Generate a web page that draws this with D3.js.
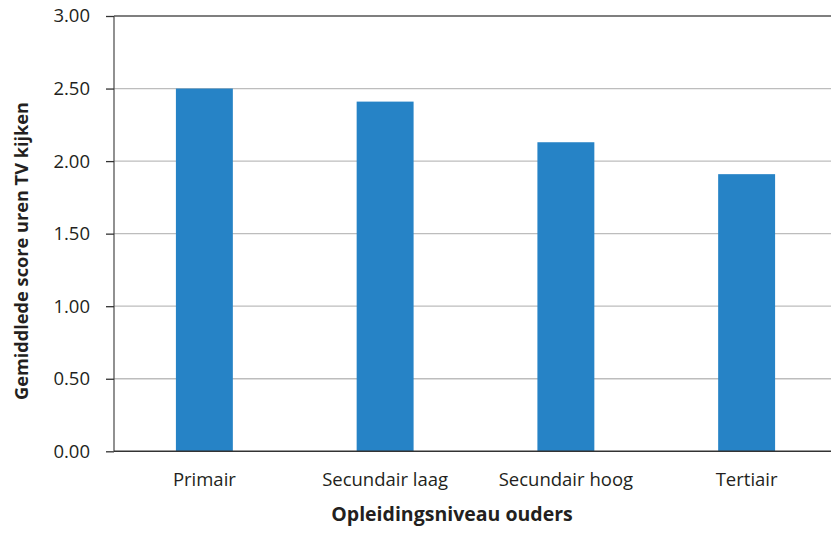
<!DOCTYPE html>
<html><head><meta charset="utf-8">
<script src="https://cdn.jsdelivr.net/npm/d3@7"></script>
<style>body{margin:0;background:#fff}svg{display:block}text{font-family:"Open Sans",sans-serif;fill:#231f20}</style>
</head><body><svg id="c" width="831" height="536"></svg>
<script>
const categories = ["Primair", "Secundair laag", "Secundair hoog", "Tertiair"];
const values = [2.50, 2.41, 2.13, 1.91];
const yTicks = [0, 0.5, 1, 1.5, 2, 2.5, 3];
const xTitle = "Opleidingsniveau ouders";
const yTitle = "Gemiddlede score uren TV kijken";

const svg = d3.select("#c");
const x0 = 114, x1 = 837, yTop = 16, yBot = 451.3;
const x = d3.scaleBand().domain(categories).range([x0, x1]).paddingInner(0.685).paddingOuter(0.3425);
const y = d3.scaleLinear().domain([0, 3]).range([yBot, yTop]);

// gridlines
svg.append("g").selectAll("line").data(yTicks.filter(t => t > 0 && t < 3)).join("line")
  .attr("x1", x0).attr("x2", 831).attr("y1", d => y(d)).attr("y2", d => y(d))
  .attr("stroke", "#bdbdbd").attr("stroke-width", 1.3);
// top line
svg.append("line").attr("x1", x0).attr("x2", 831).attr("y1", y(3)).attr("y2", y(3))
  .attr("stroke", "#555").attr("stroke-width", 1.3);

// bars
svg.append("g").selectAll("rect").data(values).join("rect")
  .attr("x", (d, i) => x(categories[i])).attr("width", x.bandwidth())
  .attr("y", d => y(d)).attr("height", d => y(0) - y(d))
  .attr("fill", "#2683c6");

// y axis
const yAxis = d3.axisLeft(y).tickValues(yTicks).tickFormat(d3.format(".2f")).tickSize(8).tickPadding(16);
const gy = svg.append("g").attr("transform", `translate(${x0},0)`).call(yAxis);
gy.select(".domain").attr("stroke", "#555").attr("stroke-width", 1.3).attr("d", `M0,${yTop}V${yBot}`);
gy.selectAll(".tick line").attr("stroke", "#333").attr("stroke-width", 1.3);
gy.selectAll(".tick text").style("font-size", "18.5px").attr("fill", "#231f20");

// baseline
svg.append("line").attr("x1", x0).attr("x2", 831).attr("y1", y(0)).attr("y2", y(0))
  .attr("stroke", "#333").attr("stroke-width", 1.5);

// x axis labels
const xAxis = d3.axisBottom(x).tickSize(0).tickPadding(22);
const gx = svg.append("g").attr("transform", `translate(0,${y(0)})`).call(xAxis);
gx.select(".domain").remove();
gx.selectAll(".tick text").style("font-size", "18.5px").attr("fill", "#231f20");

// titles
svg.append("text").attr("x", 452).attr("y", 521).attr("text-anchor", "middle")
  .style("font-size", "19.5px").style("font-weight", "bold").text(xTitle);
svg.append("text").attr("transform", `translate(28,251) rotate(-90)`).attr("text-anchor", "middle")
  .style("font-size", "18.2px").style("font-weight", "bold").text(yTitle);
</script></body></html>
